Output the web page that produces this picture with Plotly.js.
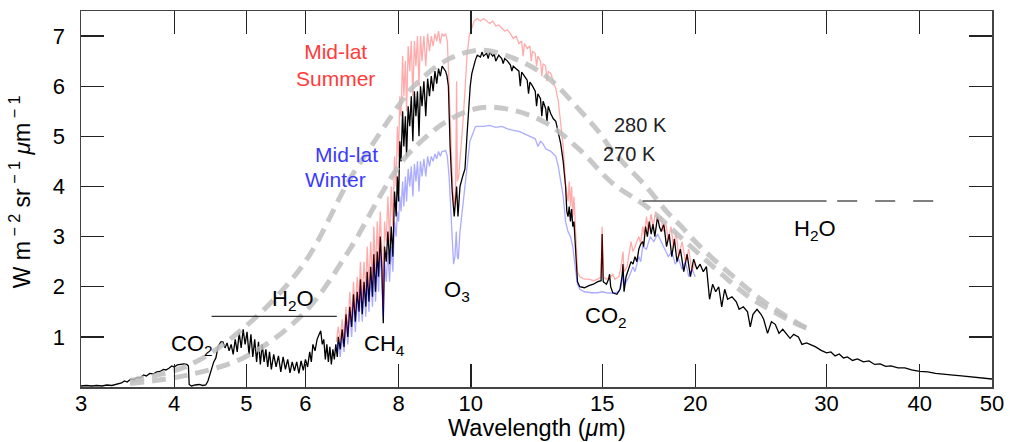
<!DOCTYPE html>
<html>
<head>
<meta charset="utf-8">
<script src="https://cdn.plot.ly/plotly-3.0.1.min.js"></script>
<style>html,body{margin:0;padding:0;background:#fff;}#chart{width:1010px;height:442px;}</style>
</head>
<body>
<div id="chart"></div>
<script>
// ---- Data (wavelength in micrometres, radiance in W m-2 sr-1 um-1) ----
const wlAvg = [3.00,3.05,3.10,3.15,3.20,3.25,3.30,3.35,3.40,3.43,3.46,3.50,3.53,3.57,3.60,3.64,3.67,3.71,3.75,3.79,3.83,3.87,3.90,3.94,3.97,4.00,4.04,4.08,4.12,4.16,4.18,4.19,4.22,4.27,4.32,4.37,4.41,4.44,4.48,4.52,4.55,4.58,4.62,
4.65,4.68,4.71,4.74,4.77,4.80,4.83,4.86,4.89,4.92,4.95,4.98,5.01,5.04,5.07,5.10,5.13,5.16,5.19,5.22,5.25,5.28,5.31,5.34,5.37,5.40,5.44,5.48,5.52,5.56,5.60,5.64,5.68,5.72,5.76,5.80,5.84,5.88,5.92,5.96,6.00,6.04,6.08,6.11,6.14,6.18,6.22,6.26,6.29,6.32,6.35,6.38,6.41,6.44,6.47,6.50,6.53,6.56,6.59,6.62,
6.64,6.68,6.72,6.76,6.80,6.84,6.88,6.92,6.96,7.00,7.04,7.08,7.11,7.15,7.19,7.23,7.26,7.30,7.34,7.38,7.41,7.45,7.49,7.52,7.56,7.60,7.63,7.66,7.70,7.74,7.78,7.82,7.86,7.90,7.94,7.97,8.00,8.03,8.06,8.10,8.13,8.17,8.20,8.24,8.28,8.32,8.36,8.40,8.44,8.48,8.52,8.56,8.60,8.65,8.70,8.75,8.80,8.85,8.90,8.95,9.00,9.05,9.10,9.15,9.20,9.25,9.29,
9.33,9.38,9.44,9.50,9.54,9.57,9.61,9.64,9.67,9.75,9.82,9.88,9.93,9.98,10.03,10.1,10.14,10.2,10.3,10.35,10.4,10.5,10.55,10.6,10.7,10.75,10.8,10.9,11.0,11.05,11.1,11.2,11.3,11.35,11.4,11.5,11.6,11.65,11.7,11.8,11.9,11.95,12.0,12.1,12.2,12.25,12.3,12.4,12.45,12.5,12.6,12.65,12.7,12.8,12.9,13.0,13.1,13.2,13.3,13.4,13.45,13.5,13.55,13.6,13.65,13.7,13.75,13.8,13.85,13.9,14.0,14.2,14.4,14.6,14.8,14.95,15.0,15.05,15.2,15.3,15.35,15.4,15.5,15.7,15.85,15.95,16.0,16.05,16.15,16.3,16.4,16.5,16.6,16.7,16.8,16.9,17.0,17.05,17.15,17.25,17.35,17.45,17.55,17.65,17.8,17.9,18.0,18.15,18.3,18.45,18.6,18.75,18.9,19.1,19.3,19.5,19.7,19.9,20.1,20.3,20.5,20.7,20.9,21.1,21.3,21.5,21.7,21.9,22.1,22.4,22.7,22.9,23.2,23.5,23.7,23.9,24.2,24.5,24.7,25.0,25.3,25.6,25.9,26.2,26.5,26.8,27.1,27.5,27.8,28.2,28.6,29.0,29.5,30.0,30.4,30.8,31.2,31.6,32.0,32.5,33.0,33.6,34.2,34.8,35.4,36.0,36.6,37.4,38.2,39.0,40.0,41.0,42.0,43.0,44.0,45.5,47.0,48.5,50.0];
const radAvg = [0.02,0.03,0.02,0.03,0.02,0.04,0.03,0.06,0.08,0.12,0.10,0.16,0.14,0.19,0.18,0.24,0.22,0.27,0.26,0.30,0.31,0.35,0.34,0.38,0.42,0.40,0.44,0.45,0.46,0.45,0.42,0.05,0.02,0.04,0.05,0.03,0.04,0.12,0.30,0.50,0.58,0.80,0.90,
0.90,0.78,0.88,0.72,0.85,0.65,0.95,0.70,1.08,0.78,1.15,0.85,1.10,0.65,1.05,0.60,0.95,0.50,0.90,0.45,0.85,0.50,0.75,0.40,0.70,0.35,0.65,0.40,0.62,0.30,0.60,0.35,0.55,0.28,0.50,0.32,0.50,0.27,0.52,0.33,0.55,0.40,0.70,0.50,0.85,0.72,0.95,1.05,1.12,0.85,0.95,0.55,0.85,0.50,0.80,0.45,0.75,0.55,0.85,0.60,
1.00,0.75,1.15,0.80,1.45,1.00,1.60,1.20,1.85,1.30,1.90,1.50,2.15,1.45,2.10,1.60,2.30,1.70,2.40,1.80,2.65,1.90,2.70,2.20,3.00,2.30,1.27,2.80,2.50,3.10,2.45,3.20,2.60,3.90,3.40,4.20,3.70,4.90,4.50,5.50,4.80,5.40,4.60,5.60,5.20,5.80,4.90,5.90,5.40,5.90,5.00,6.00,5.60,6.10,5.40,6.15,5.80,6.20,5.90,6.30,6.05,6.35,6.20,6.40,6.35,6.30,6.20,
6.00,4.80,3.90,3.40,3.70,4.00,3.40,3.80,4.00,4.20,4.35,5.00,5.50,6.00,6.25,6.45,6.52,6.62,6.58,6.68,6.60,6.66,6.55,6.68,6.60,6.64,6.50,6.62,6.55,6.45,6.55,6.50,6.42,6.30,6.40,6.35,6.30,6.00,6.28,6.20,6.12,5.85,6.08,6.00,5.90,5.60,5.85,5.75,5.40,5.70,5.55,5.30,5.60,5.45,5.35,5.30,5.10,4.85,4.50,4.00,3.50,3.40,3.60,3.30,3.55,3.20,3.30,2.90,2.40,2.10,2.00,1.98,2.02,2.05,2.10,2.12,3.05,2.10,2.05,2.15,2.25,2.00,1.88,1.85,1.95,2.20,2.45,1.90,2.20,2.40,2.50,2.45,2.60,2.50,2.75,2.85,2.90,2.80,3.20,3.00,3.30,3.05,3.25,3.00,3.40,3.20,3.10,3.25,2.80,3.05,2.60,2.95,2.50,2.75,2.30,2.65,2.20,2.55,2.35,2.45,2.30,2.40,1.75,2.05,1.90,2.00,1.60,1.95,1.75,1.80,1.70,1.55,1.60,1.50,1.20,1.45,1.55,1.45,1.35,1.07,1.30,1.25,1.07,1.15,1.05,0.97,1.05,1.00,0.85,0.88,0.84,0.80,0.73,0.68,0.70,0.62,0.66,0.58,0.60,0.53,0.56,0.50,0.52,0.45,0.46,0.41,0.42,0.38,0.38,0.34,0.31,0.30,0.27,0.26,0.24,0.22,0.20,0.18,0.16];

const wlSummer = [6.60,6.64,6.68,6.72,6.76,6.80,6.84,6.88,6.92,6.96,7.00,7.04,7.08,7.11,7.15,7.19,7.23,7.26,7.30,7.34,7.38,7.41,7.45,7.49,7.52,7.56,7.60,7.63,7.66,7.70,7.74,7.78,7.82,7.86,7.90,7.94,7.97,8.00,8.03,8.06,8.10,8.13,8.17,8.20,8.24,8.28,8.32,8.36,8.40,8.44,8.48,8.52,8.56,8.60,8.65,8.70,8.75,8.80,8.85,8.90,8.95,9.00,9.05,9.10,9.15,9.20,9.25,9.30,9.35,9.40,9.45,9.50,9.54,9.57,9.59,9.63,9.67,9.75,9.82,9.88,9.95,10.03,10.1,10.2,10.3,10.4,10.5,10.6,10.7,10.8,10.9,11.0,11.1,11.2,11.3,11.4,11.5,11.6,11.7,11.75,11.8,11.9,12.0,12.05,12.1,12.2,12.25,12.3,12.4,12.45,12.5,12.6,12.65,12.7,12.8,12.9,13.0,13.1,13.2,13.3,13.4,13.5,13.55,13.6,13.65,13.7,13.75,13.8,13.85,13.9,14.0,14.2,14.4,14.6,14.8,14.95,15.0,15.05,15.2,15.4,15.5,15.6,15.8,15.9,16.0,16.05,16.2,16.3,16.4,16.5,16.6,16.8,16.9,17.0,17.1,17.2,17.3,17.45,17.55,17.7,17.85,18.0,18.1,18.25,18.4,18.55,18.7,18.85,19.0,19.2,19.4,19.6,19.8,20.0];
const radSummer = [0.90,1.20,0.90,1.35,0.95,1.60,1.10,1.90,1.35,2.10,1.50,2.20,1.70,2.50,1.70,2.50,1.90,2.80,2.00,2.90,2.10,3.20,2.30,3.30,2.50,3.50,2.60,1.60,3.30,2.90,3.80,2.90,4.00,3.20,4.60,4.00,5.20,4.60,5.80,5.40,6.60,5.80,6.50,5.50,6.80,6.30,6.90,5.80,6.90,6.40,7.00,6.00,7.00,6.50,7.00,6.40,7.05,6.70,7.00,6.80,7.05,6.90,7.10,6.85,7.05,7.00,7.05,6.90,6.00,4.80,4.00,3.60,3.90,6.10,4.10,4.20,4.50,5.20,5.90,6.60,7.00,7.15,7.30,7.35,7.30,7.35,7.30,7.25,7.30,7.20,7.22,7.15,7.10,7.12,7.05,6.95,7.00,6.85,6.90,6.60,6.85,6.75,6.80,6.50,6.70,6.65,6.40,6.60,6.50,6.20,6.45,6.40,6.10,6.30,6.25,6.10,5.95,5.70,5.30,4.80,4.00,3.70,4.10,3.60,4.00,3.40,3.80,3.20,2.60,2.30,2.20,2.15,2.15,2.12,2.15,2.20,3.20,2.20,2.15,2.20,2.25,2.15,2.20,2.40,2.70,2.30,2.40,2.70,2.90,2.70,2.80,3.00,2.85,3.20,3.00,3.40,3.10,3.45,3.20,3.50,3.30,3.40,3.10,3.30,2.90,3.20,2.80,3.10,2.60,2.90,2.50,2.75,2.30,2.50];

const wlWinter = [6.60,6.64,6.68,6.72,6.76,6.80,6.84,6.88,6.92,6.96,7.00,7.04,7.08,7.11,7.15,7.19,7.23,7.26,7.30,7.34,7.38,7.41,7.45,7.49,7.52,7.56,7.60,7.63,7.66,7.70,7.74,7.78,7.82,7.86,7.90,7.94,7.97,8.00,8.03,8.06,8.10,8.13,8.17,8.20,8.24,8.28,8.32,8.36,8.40,8.44,8.48,8.52,8.56,8.60,8.65,8.70,8.75,8.80,8.85,8.90,8.95,9.00,9.05,9.10,9.15,9.20,9.25,9.30,9.35,9.40,9.45,9.48,9.52,9.56,9.59,9.62,9.67,9.75,9.82,9.90,9.97,10.03,10.14,10.2,10.4,10.6,10.8,11.0,11.2,11.4,11.6,11.8,12.0,12.2,12.3,12.4,12.5,12.6,12.8,13.0,13.1,13.2,13.3,13.4,13.5,13.6,13.7,13.8,13.9,14.0,14.2,14.5,14.8,15.0,15.2,15.5,15.8,15.9,16.0,16.1,16.3,16.5,16.6,16.8,16.9,17.0,17.2,17.4,17.6,17.8,18.0,18.2,18.4,18.6,18.8,19.0,19.2,19.4,19.6,19.8,20.0];
const radWinter = [0.70,0.90,0.60,1.00,0.70,1.30,0.85,1.50,1.00,1.70,1.10,1.80,1.30,2.00,1.30,1.95,1.40,2.15,1.50,2.20,1.60,2.45,1.70,2.50,1.90,2.70,2.00,1.40,2.50,2.10,2.70,2.10,2.80,2.30,3.30,3.00,3.50,3.30,3.80,3.50,4.10,3.60,4.20,3.70,4.35,4.00,4.40,3.80,4.45,4.10,4.50,3.90,4.50,4.20,4.55,4.20,4.60,4.40,4.60,4.50,4.65,4.55,4.70,4.60,4.70,4.70,4.72,4.60,4.20,3.40,2.80,2.45,2.60,3.10,2.60,2.55,3.10,3.60,3.93,4.50,4.90,5.00,5.19,5.20,5.20,5.22,5.18,5.20,5.15,5.12,5.10,5.05,5.00,4.95,4.80,4.90,4.85,4.75,4.70,4.60,4.40,4.10,3.80,3.30,3.10,3.00,2.80,2.40,2.05,1.95,1.90,1.88,1.88,1.90,1.88,1.87,1.90,2.00,2.20,2.05,2.20,2.40,2.30,2.60,2.50,2.80,2.75,3.00,2.90,3.05,2.90,2.75,2.60,2.70,2.45,2.55,2.35,2.50,2.20,2.35,2.20];

const wl280 = [3.49,4.18,4.98,5.97,6.87,7.55,8.04,8.37,9.28,10.3,11.4,12.64,14.0,14.9,15.5,17.2,18.3,19.1,20.3,22.5,24.9,28.2];
const rad280 = [0.13,0.43,1.20,2.46,4.13,5.06,5.66,5.99,6.52,6.72,6.56,6.19,5.52,5.06,4.70,3.99,3.50,3.22,2.80,2.20,1.67,1.17];
const wl270 = [3.49,4.18,4.98,5.97,6.87,7.55,8.04,8.37,9.28,10.3,11.4,12.64,14.0,15.5,17.2,19.3,21.4,23.6,25.5,27.6,28.3];
const rad270 = [0.07,0.24,0.60,1.47,2.73,3.80,4.45,4.75,5.30,5.57,5.52,5.26,4.73,4.06,3.60,2.93,2.33,1.80,1.50,1.23,1.17];

const bandH2OLeft = {wl: [4.49, 6.61], level: [1.41, 1.41]};
const bandH2ORightSolid = {wl: [17.0, 30.0], level: [3.71, 3.71]};
const bandH2ORightDash = {wl: [31.0, 42.2], level: [3.71, 3.71]};

const xTickVals = [3,4,5,6,8,10,15,20,30,40,50];
const xTickText = ['3','4','5','6','8','10','15','20','30','40','50'];
const yTickVals = [1,2,3,4,5,6,7];

// ---- Traces ----
const lbl = (t) => ({hoverinfo:'skip', showlegend:false, mode:'lines', name:t});
const traces = [
  Object.assign(lbl('Mean'), {x: wlAvg, y: radAvg, line:{color:'#000', width:1.3}}),
  Object.assign(lbl('Mid-lat Summer'), {x: wlSummer, y: radSummer, line:{color:'rgba(255,0,0,0.33)', width:1.3}}),
  Object.assign(lbl('Mid-lat Winter'), {x: wlWinter, y: radWinter, line:{color:'rgba(0,0,255,0.33)', width:1.3}}),
  Object.assign(lbl('280 K'), {x: wl280, y: rad280, line:{color:'rgba(190,190,190,0.85)', width:5, dash:'14px,8px', shape:'spline', smoothing:1}}),
  Object.assign(lbl('270 K'), {x: wl270, y: rad270, line:{color:'rgba(190,190,190,0.85)', width:5, dash:'14px,8px', shape:'spline', smoothing:1}}),
  Object.assign(lbl('H2O band'), {x: bandH2OLeft.wl, y: bandH2OLeft.level, line:{color:'#000', width:1}}),
  Object.assign(lbl('H2O band'), {x: bandH2ORightSolid.wl, y: bandH2ORightSolid.level, line:{color:'#000', width:1}}),
  Object.assign(lbl('H2O band'), {x: bandH2ORightDash.wl, y: bandH2ORightDash.level, line:{color:'#000', width:1, dash:'20px,18px'}})
];

const F = 'Liberation Sans, Arial, Helvetica, sans-serif';
const L = Math.log10;
function note(text, wl, v, size, color) {
  return {text: text, x: L(wl), y: v, xref:'x', yref:'y', showarrow:false,
    xanchor:'center', yanchor:'middle', font:{family:F, size:size, color:color}};
}

const annotations = [
  note('CO<sub>2</sub>', 4.23, 0.83, 22, '#000'),
  note('H<sub>2</sub>O', 5.77, 1.73, 22, '#000'),
  note('CH<sub>4</sub>', 7.67, 0.83, 22, '#000'),
  note('O<sub>3</sub>', 9.58, 1.91, 22, '#000'),
  note('CO<sub>2</sub>', 15.18, 1.39, 22, '#000'),
  note('H<sub>2</sub>O', 28.9, 3.13, 22, '#000'),
  note('280 K', 16.86, 5.22, 20, '#222'),
  note('270 K', 16.3, 4.65, 20, '#222'),
  note('Mid-lat<br>Summer', 6.58, 6.42, 21, '#ff3b3b'),
  note('Mid-lat', 6.82, 4.63, 21, '#3b3bff'),
  note('Winter', 6.58, 4.13, 21, '#3b3bff'),
  {text:'Wavelength (<i>μ</i>m)', xref:'paper', yref:'paper', x:0.5, y:-0.109, xanchor:'center', yanchor:'middle',
   showarrow:false, font:{family:F, size:23.5, color:'#000'}},
  {text:'W m<sup> − 2</sup> sr<sup> − 1</sup> <i>μ</i>m<sup> − 1</sup>', xref:'paper', yref:'paper', x:-0.066, y:0.52,
   xanchor:'center', yanchor:'middle', textangle:-90, showarrow:false, font:{family:F, size:23, color:'#000'}}
];

const axisCommon = {
  showline:true, linecolor:'#444', linewidth:1.5, mirror:'ticks',
  ticks:'inside', ticklen:23, tickwidth:1.3, tickcolor:'#222',
  showgrid:false, zeroline:false, tickfont:{family:F, size:22, color:'#000'}
};

const layout = {
  width:1010, height:442,
  margin:{l:81, r:18, t:11, b:55},
  paper_bgcolor:'#fff', plot_bgcolor:'#fff',
  showlegend:false,
  xaxis: Object.assign({}, axisCommon, {type:'log', range:[L(3), L(50)], tickmode:'array', tickvals:xTickVals, ticktext:xTickText, ticklabelstandoff:-4}),
  yaxis: Object.assign({}, axisCommon, {range:[0,7.5], tickmode:'array', tickvals:yTickVals, ticklabelstandoff:10}),
  annotations: annotations
};

Plotly.newPlot('chart', traces, layout, {displayModeBar:false, staticPlot:true});
</script>
</body>
</html>
